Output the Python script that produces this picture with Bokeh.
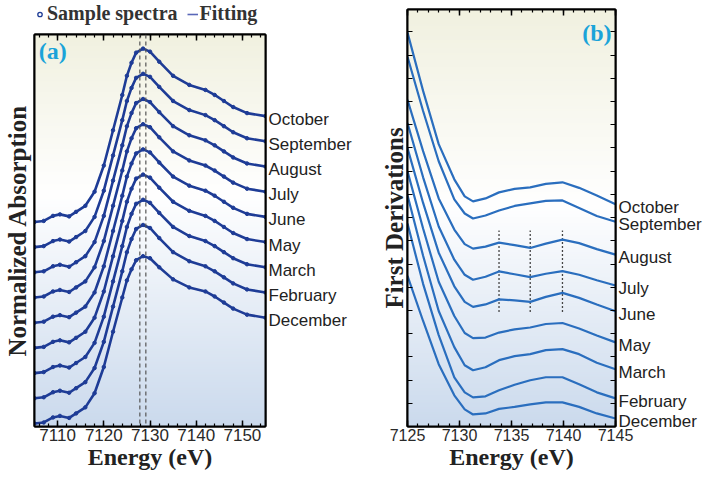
import numpy as np
from bokeh.plotting import figure
from bokeh.layouts import row, column
from bokeh.models import (Range1d, LinearAxis, SingleIntervalTicker, FixedTicker, Label,
                          Legend, LegendItem, Span, CustomJSTickFormatter)
from bokeh.embed import file_html
from bokeh.resources import INLINE

# ---------------- data ----------------
months = ["October", "September", "August", "July", "June", "May", "March", "February", "December"]

# panel (a): normalized absorption (stacked), energy in eV
energy_a = [7105, 7107, 7109, 7110.5, 7112.5, 7114, 7116, 7118, 7120, 7122, 7124, 7125, 7126,
            7127, 7128.5, 7130, 7132, 7135, 7138.5, 7142, 7144, 7146, 7148, 7151, 7155]
abs_oct = [2.03, 2.04, 2.09, 2.105, 2.085, 2.13, 2.19, 2.33, 2.59, 2.94, 3.29, 3.48, 3.61, 3.71, 3.75, 3.72, 3.62, 3.48, 3.39, 3.34, 3.29, 3.23, 3.17, 3.11, 3.08]
abs_sep = [1.78, 1.79, 1.84, 1.855, 1.835, 1.88, 1.94, 2.08, 2.34, 2.69, 3.04, 3.23, 3.36, 3.46, 3.50, 3.47, 3.37, 3.23, 3.14, 3.09, 3.04, 2.98, 2.92, 2.86, 2.83]
abs_aug = [1.53, 1.54, 1.59, 1.605, 1.585, 1.63, 1.69, 1.83, 2.09, 2.44, 2.79, 2.98, 3.11, 3.21, 3.25, 3.22, 3.12, 2.98, 2.89, 2.84, 2.79, 2.73, 2.67, 2.61, 2.58]
abs_jul = [1.28, 1.29, 1.34, 1.355, 1.335, 1.38, 1.44, 1.58, 1.84, 2.19, 2.54, 2.73, 2.86, 2.96, 3.00, 2.97, 2.87, 2.73, 2.64, 2.59, 2.54, 2.48, 2.42, 2.36, 2.33]
abs_jun = [1.03, 1.04, 1.09, 1.105, 1.085, 1.13, 1.19, 1.33, 1.59, 1.94, 2.29, 2.48, 2.61, 2.71, 2.75, 2.72, 2.62, 2.48, 2.39, 2.34, 2.29, 2.23, 2.17, 2.11, 2.08]
abs_may = [0.78, 0.79, 0.84, 0.855, 0.835, 0.88, 0.94, 1.08, 1.34, 1.69, 2.04, 2.23, 2.36, 2.46, 2.50, 2.47, 2.37, 2.23, 2.14, 2.09, 2.04, 1.98, 1.92, 1.86, 1.83]
abs_mar = [0.53, 0.54, 0.59, 0.605, 0.585, 0.63, 0.69, 0.83, 1.09, 1.44, 1.79, 1.98, 2.11, 2.21, 2.25, 2.22, 2.12, 1.98, 1.89, 1.84, 1.79, 1.73, 1.67, 1.61, 1.58]
abs_feb = [0.28, 0.29, 0.34, 0.355, 0.335, 0.38, 0.44, 0.58, 0.84, 1.19, 1.54, 1.73, 1.86, 1.96, 2.00, 1.97, 1.87, 1.73, 1.64, 1.59, 1.54, 1.48, 1.42, 1.36, 1.33]
abs_dec = [0.03, 0.04, 0.09, 0.105, 0.085, 0.13, 0.19, 0.33, 0.59, 0.94, 1.28, 1.45, 1.56, 1.65, 1.69, 1.67, 1.58, 1.46, 1.38, 1.34, 1.29, 1.23, 1.17, 1.11, 1.08]
absorption = [abs_oct, abs_sep, abs_aug, abs_jul, abs_jun, abs_may, abs_mar, abs_feb, abs_dec]
edge_peaks_a = [7127.8, 7129.1]

# panel (b): first derivatives (stacked)
energy_b = [7125, 7126.5, 7128, 7129.5, 7130.5, 7131.3, 7132.5, 7133.8, 7135.3, 7136.8, 7138.3, 7139.9, 7141.5, 7143.2, 7145]
der_oct = [3.92, 3.34, 2.81, 2.46, 2.29, 2.24, 2.27, 2.33, 2.365, 2.38, 2.415, 2.43, 2.375, 2.30, 2.213]
der_sep = [3.68, 3.14, 2.64, 2.26, 2.12, 2.07, 2.10, 2.15, 2.195, 2.22, 2.245, 2.25, 2.175, 2.095, 2.037]
der_aug = [3.25, 2.74, 2.27, 1.96, 1.815, 1.77, 1.79, 1.83, 1.805, 1.777, 1.82, 1.86, 1.825, 1.765, 1.71]
der_jul = [3.02, 2.48, 1.99, 1.66, 1.51, 1.46, 1.49, 1.543, 1.515, 1.487, 1.52, 1.547, 1.51, 1.455, 1.403]
der_jun = [2.77, 2.225, 1.73, 1.395, 1.24, 1.19, 1.215, 1.265, 1.255, 1.24, 1.29, 1.33, 1.28, 1.215, 1.147]
der_may = [2.54, 1.97, 1.44, 1.10, 0.93, 0.88, 0.885, 0.935, 0.967, 0.985, 1.02, 1.03, 0.975, 0.905, 0.837]
der_mar = [2.30, 1.70, 1.15, 0.79, 0.61, 0.56, 0.59, 0.66, 0.70, 0.72, 0.76, 0.77, 0.72, 0.635, 0.57]
der_feb = [2.02, 1.42, 0.91, 0.49, 0.34, 0.29, 0.30, 0.36, 0.415, 0.46, 0.49, 0.49, 0.42, 0.34, 0.28]
der_dec = [1.50, 1.05, 0.62, 0.31, 0.17, 0.12, 0.13, 0.175, 0.195, 0.22, 0.24, 0.24, 0.195, 0.13, 0.08]
derivative = [der_oct, der_sep, der_aug, der_jul, der_jun, der_may, der_mar, der_feb, der_dec]
features_b = [7133.8, 7136.8, 7139.9]
features_b_span = [1.14, 1.95]

# ---------------- style ----------------
BLUE_A = "#1e3c96"
BLUE_B = "#2a6ebe"
CYAN = "#1aa3d9"
SERIF = "Liberation Serif"
SANS = "Liberation Sans"
NARROW = "Liberation Sans Narrow, Liberation Sans"
LABEL_NUDGE = 0.03  # small downward nudge of month labels (styling only)


def gradient(n=240, white_at=0.56):
    t = np.linspace(0.0, 1.0, n)  # bottom -> top
    stops = [0.0, white_at, 1.0]
    r = np.interp(t, stops, [203, 255, 241])
    g = np.interp(t, stops, [218, 255, 241])
    b = np.interp(t, stops, [237, 255, 224])
    img = np.empty((n, 1), dtype=np.uint32)
    v = img.view(dtype=np.uint8).reshape((n, 1, 4))
    v[:, 0, 0] = r.astype(np.uint8)
    v[:, 0, 1] = g.astype(np.uint8)
    v[:, 0, 2] = b.astype(np.uint8)
    v[:, 0, 3] = 255
    return img


def style_axis(ax, font=SANS, size="16px"):
    ax.axis_line_color = "black"
    ax.axis_line_width = 2
    ax.major_tick_line_color = "black"
    ax.major_tick_line_width = 1.5
    ax.minor_tick_line_color = "black"
    ax.minor_tick_line_width = 1.2
    ax.major_tick_out = 0
    ax.minor_tick_out = 0
    ax.major_tick_in = 6
    ax.minor_tick_in = 3
    ax.major_label_text_font = font
    ax.major_label_text_font_size = size
    ax.major_label_text_color = "#2a2a2a"
    ax.major_label_standoff = 2
    ax.axis_label_text_font = SERIF
    ax.axis_label_text_font_style = "bold"
    ax.axis_label_text_font_size = "24px"
    ax.axis_label_text_color = "#222222"
    ax.axis_label_standoff = 0


def top_axis(ticker):
    ax = LinearAxis(ticker=ticker, formatter=CustomJSTickFormatter(code="return ''"))
    style_axis(ax)
    ax.major_label_standoff = 0
    return ax


def month_axis(ends, minor=None):
    pos = [e - LABEL_NUDGE for e in ends]
    ticker = FixedTicker(ticks=pos, minor_ticks=minor or [])
    ax = LinearAxis(ticker=ticker, major_label_overrides={v: m for v, m in zip(pos, months)})
    style_axis(ax, size="17px")
    ax.major_tick_in = 0
    ax.minor_tick_in = 5
    ax.major_label_standoff = 3
    ax.major_label_text_color = "#222222"
    return ax


def base_fig(width, height, x_rng, y_rng, left, right, top, bottom):
    p = figure(width=width, height=height, x_range=Range1d(*x_rng), y_range=Range1d(*y_rng),
               output_backend="svg", toolbar_location=None,
               x_axis_location=None, y_axis_location=None,
               min_border_left=left, min_border_right=right,
               min_border_top=top, min_border_bottom=bottom)
    p.grid.visible = False
    p.outline_line_color = "black"
    p.outline_line_width = 2
    p.outline_line_alpha = 1
    p.background_fill_color = "white"
    p.border_fill_color = "white"
    return p


# ---------------- legend strip above panel (a) ----------------
pleg = figure(width=377, height=26, x_range=Range1d(0, 1), y_range=Range1d(0, 1),
              output_backend="svg", toolbar_location=None,
              x_axis_location=None, y_axis_location=None, min_border=0)
pleg.grid.visible = False
pleg.outline_line_color = None
leg_pts = pleg.scatter(x=[np.nan], y=[np.nan], marker="circle", size=5, line_color=BLUE_A,
                       fill_color=None, line_width=1.3)
leg_line = pleg.line(x=[np.nan, np.nan], y=[np.nan, np.nan], line_color="#5a68b8", line_width=1.6)
legend = Legend(items=[LegendItem(label="Sample spectra", renderers=[leg_pts]),
                       LegendItem(label="Fitting", renderers=[leg_line])],
                orientation="horizontal", location=(0, 1))
legend.label_text_font = SERIF
legend.label_text_font_style = "bold"
legend.label_text_font_size = "20px"
legend.label_text_color = "#333333"
legend.background_fill_alpha = 0
legend.border_line_alpha = 0
legend.glyph_width = 11
legend.label_standoff = 2
legend.spacing = 9
legend.padding = 0
legend.margin = 0
pleg.add_layout(legend)

# ---------------- panel (a) ----------------
pa = base_fig(377, 446, (7105, 7155), (0, 3.89), 33, 112, 8, 42)
pa.image_rgba(image=[gradient(white_at=0.59)], x=7105, y=0, dw=50, dh=3.89, level="image")

for xv in edge_peaks_a:
    pa.add_layout(Span(location=xv, dimension="height", line_color="#555555",
                       line_dash="4 3", line_width=1.2))

for ys in absorption:
    pa.line(energy_a, ys, line_color=BLUE_A, line_width=2.6)
    pa.scatter(energy_a, ys, marker="circle", size=3.5, line_color=BLUE_A, fill_color=BLUE_A)

bx = LinearAxis(ticker=SingleIntervalTicker(interval=10, num_minor_ticks=5), axis_label="Energy (eV)")
style_axis(bx, font=NARROW, size="17px")
pa.add_layout(bx, "below")
pa.add_layout(top_axis(SingleIntervalTicker(interval=10, num_minor_ticks=5)), "above")
ly = LinearAxis(ticker=FixedTicker(ticks=[]), axis_label="Normalized Absorption")
style_axis(ly)
ly.major_label_standoff = 0
ly.axis_label_text_font_size = "25px"
ly.axis_label_standoff = 4
pa.add_layout(ly, "left")
pa.add_layout(month_axis([ys[-1] for ys in absorption]), "right")

pa.add_layout(Label(x=7105.9, y=3.73, text="(a)", text_color=CYAN, text_font=SERIF,
                    text_font_style="bold", text_font_size="24px", text_baseline="middle"))

# ---------------- panel (b) ----------------
pb = base_fig(327, 472, (7125, 7145), (0, 4.15), 29, 84, 9, 42)
pb.image_rgba(image=[gradient(white_at=0.53)], x=7125, y=0, dw=20, dh=4.15, level="image")

pb.segment(x0=features_b, y0=[features_b_span[0]] * len(features_b),
           x1=features_b, y1=[features_b_span[1]] * len(features_b),
           line_color="#444444", line_dash="2 2", line_width=1.3)

for ys in derivative:
    pb.line(energy_b, ys, line_color=BLUE_B, line_width=2.2)

bxb = LinearAxis(ticker=SingleIntervalTicker(interval=5, num_minor_ticks=5), axis_label="Energy (eV)")
style_axis(bxb, size="16px")
pb.add_layout(bxb, "below")
pb.add_layout(top_axis(SingleIntervalTicker(interval=5, num_minor_ticks=5)), "above")
side_ticks_b = list(np.arange(1, 18) * 0.231)
lyb = LinearAxis(ticker=FixedTicker(ticks=[], minor_ticks=side_ticks_b),
                 axis_label="First Derivations")
style_axis(lyb)
lyb.minor_tick_in = 5
lyb.major_label_standoff = 0
lyb.axis_label_text_font_size = "25px"
lyb.axis_label_standoff = 0
pb.add_layout(lyb, "left")
pb.add_layout(month_axis([ys[-1] for ys in derivative], side_ticks_b), "right")

pb.add_layout(Label(x=7141.8, y=3.92, text="(b)", text_color=CYAN, text_font=SERIF,
                    text_font_style="bold", text_font_size="24px", text_baseline="middle"))

layout = row(column(pleg, pa), column(pb))
open("out.html", "w").write(file_html(layout, INLINE))
